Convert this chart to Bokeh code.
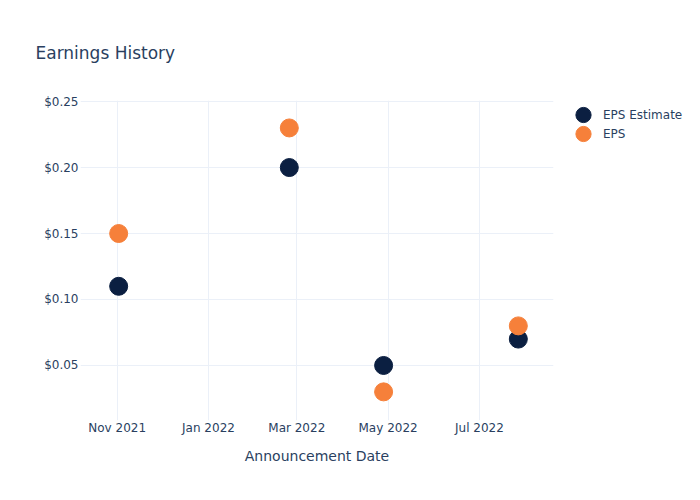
from datetime import datetime
from bokeh.plotting import figure
from bokeh.models import (ColumnDataSource, Range1d, FixedTicker, NumeralTickFormatter,
                          Legend, LegendItem)
from bokeh.embed import file_html
from bokeh.resources import INLINE

# ---- data ----
dates = ["2021-11-02", "2022-02-24", "2022-04-28", "2022-07-27"]
eps_estimate = [0.11, 0.20, 0.05, 0.07]
eps_actual = [0.15, 0.23, 0.03, 0.08]
tick_dates = ["2021-11-01", "2022-01-01", "2022-03-01", "2022-05-01", "2022-07-01"]
tick_labels = ["Nov 2021", "Jan 2022", "Mar 2022", "May 2022", "Jul 2022"]
y_ticks = [0.05, 0.10, 0.15, 0.20, 0.25]

FONT = "DejaVu Sans"
TXT = "#2a3f5f"
GRID = "#ebf0f8"

def to_dt(s):
    return datetime.strptime(s, "%Y-%m-%d")

def to_ms(s):
    return (to_dt(s) - datetime(1970, 1, 1)).total_seconds() * 1000.0

src = ColumnDataSource(dict(x=[to_dt(d) for d in dates], est=eps_estimate, eps=eps_actual))

p = figure(frame_width=473, frame_height=320, x_axis_type="datetime", output_backend="svg",
           toolbar_location=None,
           x_range=Range1d(datetime(2021, 10, 7, 12), datetime(2022, 8, 19, 12)),
           y_range=Range1d(0.0083, 0.2508),
           min_border_left=80, min_border_right=131, min_border_top=100, min_border_bottom=64)
p.outline_line_color = None
p.background_fill_color = "white"

r1 = p.ellipse("x", "est", source=src, width=18, height=18, width_units="screen",
               height_units="screen", fill_color="#0b1f41", line_color="#0b1f41")
r2 = p.ellipse("x", "eps", source=src, width=18, height=18, width_units="screen",
               height_units="screen", fill_color="#f6803a", line_color="#f6803a")

# axes
tms = [to_ms(d) for d in tick_dates]
p.xaxis.ticker = FixedTicker(ticks=tms)
p.xaxis.major_label_overrides = {t: l for t, l in zip(tms, tick_labels)}
p.yaxis.ticker = FixedTicker(ticks=y_ticks)
p.yaxis.formatter = NumeralTickFormatter(format="$0.00")
for ax in (p.xaxis[0], p.yaxis[0]):
    ax.axis_line_color = None
    ax.major_tick_line_color = None
    ax.minor_tick_line_color = None
    ax.major_tick_out = 0
    ax.major_tick_in = 0
    ax.major_label_text_font = FONT
    ax.major_label_text_font_size = "12px"
    ax.major_label_text_color = TXT
p.yaxis.major_label_standoff = 2
p.xaxis.major_label_standoff = 0
p.xaxis.axis_label = "Announcement Date"
p.xaxis.axis_label_text_font = FONT
p.xaxis.axis_label_text_font_size = "14px"
p.xaxis.axis_label_text_font_style = "normal"
p.xaxis.axis_label_text_color = TXT
p.xaxis.axis_label_standoff = 10

p.xgrid.grid_line_color = GRID
p.ygrid.grid_line_color = GRID
p.xgrid.ticker = p.xaxis.ticker
p.ygrid.ticker = p.yaxis.ticker

# title
p.title.text = "Earnings History"
p.title.text_font = FONT
p.title.text_font_size = "17px"
p.title.text_font_style = "normal"
p.title.text_color = TXT
p.title.align = "left"
p.title.offset = -45
p.title.standoff = 76

legend = Legend(items=[LegendItem(label="EPS Estimate", renderers=[r1]),
                       LegendItem(label="EPS", renderers=[r2])],
                location=(20, 277), border_line_color=None, background_fill_alpha=0,
                margin=0, padding=0, spacing=0,
                glyph_width=20, glyph_height=19,
                label_standoff=10, label_text_font=FONT, label_text_font_size="12px",
                label_text_color=TXT, label_height=19)
p.add_layout(legend, "right")

open("out.html", "w").write(file_html(p, INLINE))
